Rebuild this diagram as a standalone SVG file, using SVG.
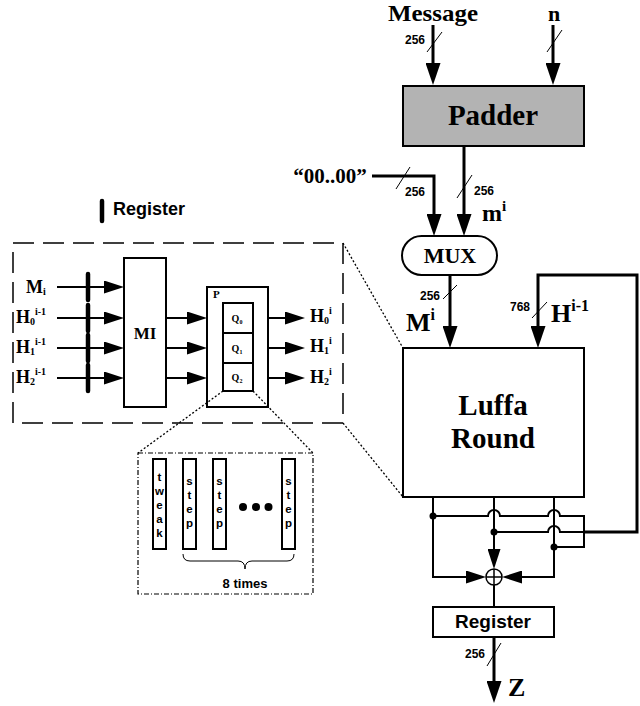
<svg xmlns="http://www.w3.org/2000/svg" width="640" height="706" viewBox="0 0 640 706">
<style>
.sf{font-family:"Liberation Serif","Times New Roman",serif;font-weight:bold;fill:#000}
.ss{font-family:"Liberation Sans",Arial,sans-serif;font-weight:bold;fill:#000}
.box{fill:#fff;stroke:#000;stroke-width:2}
.w3{fill:none;stroke:#000;stroke-width:3}
.w2{fill:none;stroke:#000;stroke-width:2}
.sl{fill:none;stroke:#000;stroke-width:1}
.reg{stroke:#000;stroke-width:4.5;stroke-linecap:round}
.dot{fill:none;stroke:#000;stroke-width:1.3;stroke-dasharray:2 2}
</style>
<defs>
<marker id="big" markerUnits="userSpaceOnUse" markerWidth="22" markerHeight="15" refX="12" refY="7.5" orient="auto"><path d="M0,0 L22,7.5 L0,15 z" fill="#000"/></marker>
<marker id="sm" markerUnits="userSpaceOnUse" markerWidth="20" markerHeight="13" refX="10" refY="6.5" orient="auto"><path d="M0,0 L20,6.5 L0,13 z" fill="#000"/></marker>
</defs>

<g id="message"><text class="sf" x="433" y="21" font-size="23" text-anchor="middle" textLength="90" lengthAdjust="spacingAndGlyphs">Message</text></g>
<g id="n-input"><text class="sf" x="554" y="21" font-size="22" text-anchor="middle">n</text></g>
<g id="padder"><rect x="403" y="86" width="181" height="60" fill="#b3b3b3" stroke="#000" stroke-width="2"/><text class="sf" x="493" y="125" font-size="29" text-anchor="middle">Padder</text></g>
<g id="zeros"><text class="sf" x="330" y="183" font-size="21" text-anchor="middle">“00..00”</text></g>
<g id="mux"><rect class="box" x="402" y="236" width="95" height="39" rx="19.5"/><text class="sf" x="450" y="263" font-size="22" text-anchor="middle">MUX</text></g>
<g id="luffa"><rect class="box" x="403" y="348" width="181" height="149"/><text class="sf" x="493" y="415" font-size="29" text-anchor="middle">Luffa</text><text class="sf" x="493" y="448" font-size="29" text-anchor="middle">Round</text></g>
<g id="xor"><circle cx="494" cy="577" r="8" fill="#fff" stroke="#000" stroke-width="1.5"/><path d="M486,577 H502 M494,569 V585" stroke="#000" stroke-width="1.5"/></g>
<g id="register"><rect class="box" x="433" y="607" width="121" height="30"/><text class="ss" x="493" y="628" font-size="19" text-anchor="middle">Register</text></g>
<g id="z-out"><text class="sf" x="508" y="696" font-size="26">Z</text></g>

<g id="legend"><line class="reg" x1="102" y1="201" x2="102" y2="221"/><text class="ss" x="113" y="215" font-size="18">Register</text></g>
<g id="mi-detail"><rect x="13" y="243" width="330" height="180" fill="none" stroke="#000" stroke-width="1.5" stroke-dasharray="21 9"/></g>
<g id="mi"><rect class="box" x="124" y="258" width="42" height="149"/><text class="sf" x="145" y="339" font-size="17" text-anchor="middle">MI</text></g>
<g id="p"><rect class="box" x="207" y="287" width="61" height="120"/><text class="sf" x="213" y="298" font-size="11">P</text>
<rect class="box" x="223" y="303" width="30" height="30"/><rect class="box" x="223" y="333" width="30" height="30"/><rect class="box" x="223" y="363" width="30" height="28"/>
<text class="sf" x="237" y="322" font-size="10" text-anchor="middle">Q<tspan font-size="6" dy="2">0</tspan></text>
<text class="sf" x="237" y="352" font-size="10" text-anchor="middle">Q<tspan font-size="6" dy="2">1</tspan></text>
<text class="sf" x="237" y="381" font-size="10" text-anchor="middle">Q<tspan font-size="6" dy="2">2</tspan></text></g>
<g id="in-labels">
<text class="sf" x="26" y="293" font-size="18">M<tspan font-size="10" dy="2">i</tspan></text>
<text class="sf" x="16" y="323" font-size="18">H<tspan font-size="10" dy="2">0</tspan><tspan font-size="10" dy="-10">i-1</tspan></text>
<text class="sf" x="16" y="353" font-size="18">H<tspan font-size="10" dy="2">1</tspan><tspan font-size="10" dy="-10">i-1</tspan></text>
<text class="sf" x="16" y="383" font-size="18">H<tspan font-size="10" dy="2">2</tspan><tspan font-size="10" dy="-10">i-1</tspan></text>
</g>
<g id="out-labels">
<text class="sf" x="310" y="322" font-size="18">H<tspan font-size="10" dy="2">0</tspan><tspan font-size="10" dy="-10">i</tspan></text>
<text class="sf" x="310" y="352" font-size="18">H<tspan font-size="10" dy="2">1</tspan><tspan font-size="10" dy="-10">i</tspan></text>
<text class="sf" x="310" y="383" font-size="18">H<tspan font-size="10" dy="2">2</tspan><tspan font-size="10" dy="-10">i</tspan></text>
</g>
<g id="q2-detail"><rect x="138" y="453" width="175" height="141" fill="none" stroke="#000" stroke-width="1.2" stroke-dasharray="5 2 1 2"/>
<rect class="box" x="153" y="459" width="13" height="90" stroke-width="1.5"/>
<rect class="box" x="183" y="459" width="13" height="90" stroke-width="1.5"/>
<rect class="box" x="213" y="459" width="13" height="90" stroke-width="1.5"/>
<rect class="box" x="282" y="459" width="13" height="90" stroke-width="1.5"/>
<g class="ss" font-size="11.5" text-anchor="middle">
<text x="159.5" y="481">t</text><text x="159.5" y="495">w</text><text x="159.5" y="509">e</text><text x="159.5" y="523">a</text><text x="159.5" y="537">k</text>
<text x="189.5" y="485">s</text><text x="189.5" y="499">t</text><text x="189.5" y="513">e</text><text x="189.5" y="527">p</text>
<text x="219.5" y="485">s</text><text x="219.5" y="499">t</text><text x="219.5" y="513">e</text><text x="219.5" y="527">p</text>
<text x="288.5" y="485">s</text><text x="288.5" y="499">t</text><text x="288.5" y="513">e</text><text x="288.5" y="527">p</text>
</g>
<circle cx="243" cy="507" r="4"/><circle cx="256" cy="507" r="4"/><circle cx="268.5" cy="507" r="4"/>
<path d="M183,554 Q183,561 190,561 H238 Q245,561 245,569 Q245,561 252,561 H287 Q294,561 294,554" class="sl" stroke-width="1.2"/>
<text class="ss" x="245" y="588" font-size="13" text-anchor="middle">8 times</text>
</g>

<g id="connectors">
<path class="w3" d="M433,25 V75" marker-end="url(#big)"/>
<path class="w3" d="M553,25 V75" marker-end="url(#big)"/>
<path class="w3" d="M464,146 V226" marker-end="url(#big)"/>
<path class="w3" d="M372,176 H434 V226" marker-end="url(#big)"/>
<path class="w3" d="M450,275 V338" marker-end="url(#big)"/>
<path class="w3" d="M584,532 H637 V275 H538 V338" marker-end="url(#big)"/>
<path class="w3" d="M494,637 V693" marker-end="url(#big)"/>
<path class="w2" d="M433,497 V577 H476" marker-end="url(#sm)"/>
<path class="w2" d="M554,497 V577 H512" marker-end="url(#sm)"/>
<path class="w2" d="M494,497 V559" marker-end="url(#sm)"/>
<path class="w2" d="M494,585 V607"/>
<path class="w2" d="M433,516 H488 A6,6 0 0 1 500,516 H548 A6,6 0 0 1 560,516 H584 V547 H554"/>
<path class="w2" d="M494,532 H548 A6,6 0 0 1 560,532 H584"/>
<circle cx="433" cy="516" r="3.5"/><circle cx="494" cy="532" r="3.5"/><circle cx="554" cy="547" r="3.5"/>
<g class="sl">
<line x1="427" y1="52" x2="442" y2="32"/><line x1="547" y1="52" x2="562" y2="30"/>
<line x1="396" y1="189" x2="410" y2="167"/><line x1="457" y1="198" x2="472" y2="175"/>
<line x1="443" y1="299" x2="457" y2="285"/><line x1="532" y1="318" x2="547" y2="302"/>
<line x1="487" y1="666" x2="501" y2="643"/>
</g>
<g class="ss" font-size="12">
<text x="405" y="44">256</text><text x="405" y="196">256</text><text x="474" y="195">256</text>
<text x="420" y="300">256</text><text x="510" y="311">768</text><text x="465" y="658">256</text>
</g>
<text class="sf" x="482" y="221" font-size="24">m<tspan font-size="15" dy="-10">i</tspan></text>
<text class="sf" x="406" y="331" font-size="26">M<tspan font-size="16" dy="-11">i</tspan></text>
<text class="sf" x="551" y="322" font-size="26">H<tspan font-size="16" dy="-11">i-1</tspan></text>
<path class="w2" d="M57,287 H114" marker-end="url(#sm)"/>
<path class="w2" d="M57,318 H114" marker-end="url(#sm)"/>
<path class="w2" d="M57,348 H114" marker-end="url(#sm)"/>
<path class="w2" d="M57,378 H114" marker-end="url(#sm)"/>
<line class="reg" x1="88" y1="274" x2="88" y2="300"/>
<line class="reg" x1="88" y1="305" x2="88" y2="331"/>
<line class="reg" x1="88" y1="335" x2="88" y2="361"/>
<line class="reg" x1="88" y1="365" x2="88" y2="391"/>
<path class="w2" d="M166,318 H197" marker-end="url(#sm)"/>
<path class="w2" d="M166,348 H197" marker-end="url(#sm)"/>
<path class="w2" d="M166,378 H197" marker-end="url(#sm)"/>
<path class="w2" d="M268,318 H295" marker-end="url(#sm)"/>
<path class="w2" d="M268,348 H295" marker-end="url(#sm)"/>
<path class="w2" d="M268,378 H295" marker-end="url(#sm)"/>
<path class="dot" d="M343,243 L403,348 M343,423 L403,497 M223,391 L138,453 M253,391 L313,453"/>
</g>
</svg>
